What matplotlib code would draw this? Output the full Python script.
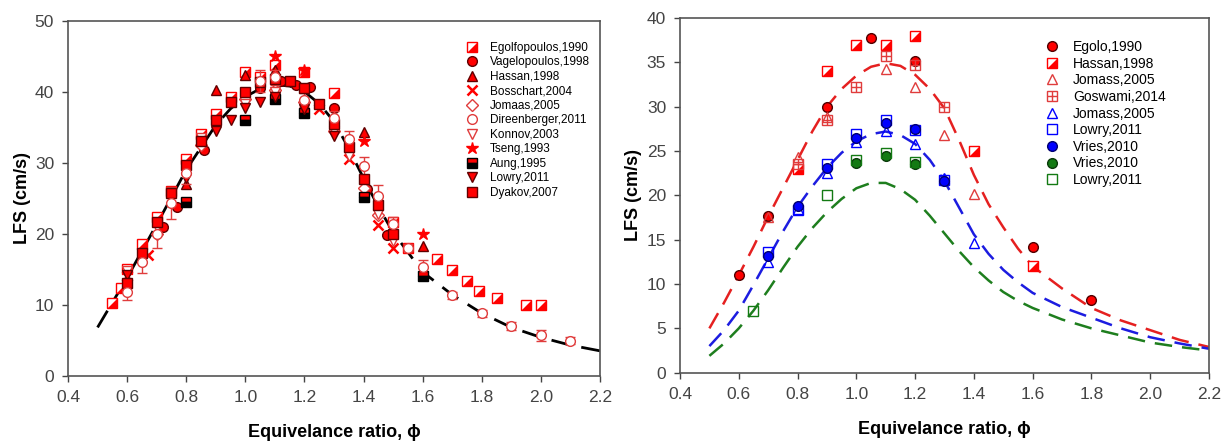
# LFS x equivalence ratio: two panels (compilation of literature data)

import matplotlib
matplotlib.use('Agg')
import matplotlib.pyplot as plt

plt.rcParams['font.family'] = ['Liberation Sans', 'DejaVu Sans']

# ---------------- left panel data ----------------
ego_x = [0.55, 0.58, 0.6, 0.65, 0.7, 0.75, 0.8, 0.85, 0.9, 0.95, 1.0, 1.05, 1.1, 1.2, 1.3,
         1.5, 1.55, 1.65, 1.7, 1.75, 1.79, 1.85, 1.95, 2.0]
ego_y = [10.2, 12.3, 15.0, 18.5, 22.3, 26.0, 30.5, 34.0, 36.8, 39.2, 42.8, 42.0, 43.8, 42.8, 39.8,
         21.7, 18.0, 16.4, 14.9, 13.3, 12.0, 11.0, 10.0, 10.0]
vag_x = [0.72, 0.77, 0.86, 1.05, 1.12, 1.17, 1.22, 1.3, 1.41, 1.48]
vag_y = [21.0, 23.8, 31.8, 40.5, 41.5, 41.0, 40.7, 37.7, 26.3, 19.8]
has_x = [0.8, 0.9, 1.0, 1.1, 1.4, 1.6]
has_y = [27.0, 40.2, 42.3, 43.0, 34.3, 18.2]
bos_x = [0.6, 0.67, 1.25, 1.35, 1.45, 1.5]
bos_y = [14.0, 17.0, 37.5, 30.5, 21.2, 18.0]
jom_x = [0.7, 0.85, 1.0, 1.1, 1.2, 1.3, 1.4, 1.45]
jom_y = [20.0, 32.5, 39.0, 40.3, 38.6, 34.5, 26.5, 22.7]
dir_x = [0.6, 0.65, 0.7, 0.75, 0.8, 1.05, 1.1, 1.2, 1.3, 1.35, 1.4, 1.45, 1.5, 1.55, 1.6,
         1.7, 1.8, 1.9, 2.0, 2.1]
dir_y = [11.8, 16.0, 20.0, 24.3, 28.5, 41.5, 42.0, 38.8, 36.3, 33.3, 29.5, 25.3, 21.3, 18.0, 15.3,
         11.3, 8.8, 7.0, 5.7, 4.9]
dir_err = [1.2, 1.5, 2.0, 2.3, 1.5, 1.5, 1.0, 1.0, 1.0, 1.2, 1.3, 1.5, 1.0, 0.5, 1.0,
           0.5, 0.5, 0.6, 0.8, 0.5]
kon_x = [0.6, 0.7, 0.85, 1.0, 1.1, 1.3, 1.35, 1.45, 1.5]
kon_y = [14.8, 21.0, 33.5, 38.3, 40.0, 34.5, 31.0, 22.8, 19.0]
tse_x = [1.1, 1.2, 1.4, 1.6]
tse_y = [45.0, 43.0, 33.0, 20.0]
aung_x = [0.8, 1.0, 1.1, 1.2, 1.4, 1.6]
aung_y = [24.4, 36.0, 39.0, 37.0, 25.2, 14.0]
low_x = [0.6, 0.8, 0.9, 0.95, 1.0, 1.05, 1.1, 1.2, 1.3]
low_y = [14.2, 27.8, 34.5, 36.0, 37.7, 38.6, 39.3, 37.5, 33.8]
dya_x = [0.6, 0.65, 0.7, 0.75, 0.8, 0.85, 0.9, 0.95, 1.0, 1.05, 1.1, 1.15, 1.2, 1.25, 1.3,
         1.35, 1.4, 1.45, 1.5]
dya_y = [13.0, 17.3, 21.6, 25.7, 29.7, 33.0, 36.0, 38.5, 40.0, 41.3, 41.8, 41.5, 40.5, 38.2, 35.5,
         32.2, 27.7, 24.0, 20.0]

# fitted curve (left)
fit_x = [0.5, 0.6, 0.7, 0.8, 0.9, 0.95, 1.0, 1.05, 1.1, 1.15, 1.2, 1.25, 1.3, 1.35, 1.4,
         1.45, 1.5, 1.6, 1.7, 1.8, 1.9, 2.0, 2.1, 2.2]
fit_y = [6.8, 13.8, 21.3, 29.0, 35.3, 37.6, 39.3, 40.4, 41.0, 40.8, 40.0, 38.3, 35.8, 32.0, 27.8,
         23.8, 20.2, 14.6, 11.4, 8.8, 6.8, 5.4, 4.3, 3.5]

# ---------------- right panel data ----------------
r_ego_x = [0.6, 0.7, 0.9, 1.05, 1.2, 1.6, 1.8]
r_ego_y = [11.0, 17.7, 30.0, 37.8, 35.2, 14.2, 8.2]
r_has_x = [0.8, 0.9, 1.0, 1.1, 1.2, 1.4, 1.6]
r_has_y = [23.0, 34.0, 37.0, 37.0, 38.0, 25.0, 12.0]
r_jom_x = [0.7, 0.8, 0.9, 1.1, 1.2, 1.3, 1.4]
r_jom_y = [17.6, 24.3, 28.8, 34.3, 32.2, 26.8, 20.1]
r_gos_x = [0.8, 0.9, 1.0, 1.1, 1.2, 1.3]
r_gos_y = [23.5, 28.5, 32.2, 35.7, 34.7, 30.0]
b_jom_x = [0.7, 0.8, 0.9, 1.0, 1.1, 1.2, 1.3, 1.4]
b_jom_y = [12.5, 18.5, 22.5, 26.0, 27.3, 25.8, 22.0, 14.6]
b_low_x = [0.7, 0.8, 0.9, 1.0, 1.1, 1.2, 1.3]
b_low_y = [13.6, 18.4, 23.5, 26.9, 28.5, 27.4, 21.7]
b_vri_x = [0.7, 0.8, 0.9, 1.0, 1.1, 1.2, 1.3]
b_vri_y = [13.2, 18.8, 23.1, 26.5, 28.2, 27.5, 21.6]
g_vri_x = [1.0, 1.1, 1.2]
g_vri_y = [23.6, 24.4, 23.5]
g_low_x = [0.65, 0.9, 1.0, 1.1, 1.2]
g_low_y = [7.0, 20.0, 24.0, 24.8, 23.8]

# fitted curves (right)
cur_x = [0.5, 0.55, 0.6, 0.65, 0.7, 0.75, 0.8, 0.85, 0.9, 0.95, 1.0, 1.05, 1.1, 1.15, 1.2,
         1.25, 1.3, 1.35, 1.4, 1.45, 1.5, 1.55, 1.6, 1.7, 1.8, 1.9, 2.0, 2.1, 2.2]
red_y = [5.0, 7.9, 11.0, 14.2, 17.6, 20.8, 24.0, 27.2, 30.0, 32.0, 33.5, 34.5, 34.9, 34.6, 33.6,
         32.0, 29.8, 26.2, 22.3, 19.0, 16.4, 14.0, 12.0, 9.5, 7.3, 5.9, 4.8, 3.7, 2.9]
blue_y = [3.0, 4.8, 7.0, 9.9, 12.9, 15.9, 18.7, 21.0, 23.1, 24.8, 26.1, 26.9, 27.2, 26.8, 25.8,
          24.0, 21.6, 18.6, 15.6, 13.4, 11.6, 10.2, 9.0, 7.4, 6.2, 5.0, 4.0, 3.3, 2.7]
green_y = [1.9, 3.3, 5.0, 7.0, 9.3, 11.8, 14.2, 16.3, 18.1, 19.6, 20.8, 21.4, 21.4, 20.7, 19.5,
           17.7, 15.7, 13.7, 11.9, 10.4, 9.1, 8.1, 7.3, 6.0, 5.0, 4.2, 3.4, 2.9, 2.5]

xticks = [0.4, 0.6, 0.8, 1.0, 1.2, 1.4, 1.6, 1.8, 2.0, 2.2]

RED = '#ff0000'
PINK = '#e03c3c'
BLUE = '#0000ff'
GREEN = '#137a13'
TRI = [(-1, -1), (1, -1), (1, 1)]  # lower-right half of a square


def half_square(ax, x, y, ms):
    a, = ax.plot(x, y, ls='none', marker='s', ms=ms, mfc='white', mec=RED, mew=1)
    b, = ax.plot(x, y, ls='none', marker=TRI, ms=ms, mfc=RED, mec=RED, mew=0.5)
    return (a, b)


def style_axes(ax, ymax, ystep):
    ax.set_xlim(0.4, 2.2)
    ax.set_ylim(0, ymax)
    ax.set_xticks(xticks)
    ax.set_xticklabels(['%.1f' % v for v in xticks])
    ax.set_yticks(range(0, ymax + 1, ystep))
    ax.tick_params(direction='out', length=4, width=1, colors='#444444', labelsize=12.5,
                   top=False, right=False, pad=6)
    for s in ax.spines.values():
        s.set_color('#555555')
        s.set_linewidth(1.2)
    ax.set_xlabel('Equivelance ratio, ϕ', fontsize=13, fontweight='bold', labelpad=14)
    ax.set_ylabel('LFS (cm/s)', fontsize=13, fontweight='bold', labelpad=3)


fig = plt.figure(figsize=(12.23, 4.42), dpi=100)
ax1 = fig.add_axes([68 / 1223, 1 - 375.7 / 442, 532 / 1223, 355 / 442])
ax2 = fig.add_axes([680 / 1223, 1 - 372.7 / 442, 529 / 1223, 354.7 / 442])

# ---------- left ----------
ms = 7
ax1.plot(fit_x, fit_y, color='black', lw=2, dashes=(7, 4), zorder=1)
h = []
h.append(half_square(ax1, ego_x, ego_y, ms))
h.append(ax1.plot(vag_x, vag_y, ls='none', marker='o', ms=ms, mfc=RED, mec='#600000')[0])
h.append(ax1.plot(has_x, has_y, ls='none', marker='^', ms=ms, mfc=RED, mec='#600000')[0])
h.append(ax1.plot(bos_x, bos_y, ls='none', marker='x', ms=ms, mec=RED, mew=1.8)[0])
h.append(ax1.plot(jom_x, jom_y, ls='none', marker='D', ms=ms - 1, mfc='white', mec=PINK)[0])
eb = ax1.errorbar(dir_x, dir_y, yerr=dir_err, fmt='o', ms=ms, mfc='white', mec=PINK,
                  ecolor=PINK, elinewidth=1, capsize=3.5)
h.append(eb[0])
h.append(ax1.plot(kon_x, kon_y, ls='none', marker='v', ms=ms, mfc='white', mec=PINK)[0])
h.append(ax1.plot(tse_x, tse_y, ls='none', marker='*', ms=ms + 2, mfc=RED, mec=RED)[0])
h.append(ax1.plot(aung_x, aung_y, ls='none', marker='s', ms=ms, fillstyle='top', mfc=RED,
                  mfcalt='black', mec='black')[0])
h.append(ax1.plot(low_x, low_y, ls='none', marker='v', ms=ms, mfc=RED, mec='#600000')[0])
h.append(ax1.plot(dya_x, dya_y, ls='none', marker='s', ms=ms, mfc=RED, mec='#600000')[0])

labels1 = ['Egolfopoulos,1990', 'Vagelopoulos,1998', 'Hassan,1998', 'Bosschart,2004',
           'Jomaas,2005', 'Direenberger,2011', 'Konnov,2003', 'Tseng,1993', 'Aung,1995',
           'Lowry,2011', 'Dyakov,2007']
ax1.legend(h, labels1, loc='upper left', bbox_to_anchor=(466 / 1223, 1 - 42 / 442),
           bbox_transform=fig.transFigure, frameon=False, fontsize=8.5, handlelength=1.0,
           handletextpad=1.0, labelspacing=0.21, borderpad=0, borderaxespad=0)
style_axes(ax1, 50, 10)

# ---------- right ----------
ms = 7
ax2.plot(cur_x, red_y, color='#e52020', lw=1.8, dashes=(7, 4), zorder=1)
ax2.plot(cur_x, blue_y, color='#1c1ce0', lw=1.8, dashes=(7, 4), zorder=1)
ax2.plot(cur_x, green_y, color='#1e7e1e', lw=1.8, dashes=(7, 4), zorder=1)
g = []
g.append(ax2.plot(r_ego_x, r_ego_y, ls='none', marker='o', ms=ms, mfc=RED, mec='#500000')[0])
g.append(half_square(ax2, r_has_x, r_has_y, ms))
g.append(ax2.plot(r_jom_x, r_jom_y, ls='none', marker='^', ms=ms, mfc='none', mec=PINK)[0])
a, = ax2.plot(r_gos_x, r_gos_y, ls='none', marker='s', ms=ms, mfc='none', mec=PINK)
b, = ax2.plot(r_gos_x, r_gos_y, ls='none', marker='+', ms=ms, mec=PINK, mew=1)
g.append((a, b))
g.append(ax2.plot(b_jom_x, b_jom_y, ls='none', marker='^', ms=ms, mfc='none', mec=BLUE)[0])
g.append(ax2.plot(b_low_x, b_low_y, ls='none', marker='s', ms=ms, mfc='none', mec=BLUE)[0])
g.append(ax2.plot(b_vri_x, b_vri_y, ls='none', marker='o', ms=ms, mfc=BLUE, mec='#000070')[0])
g.append(ax2.plot(g_vri_x, g_vri_y, ls='none', marker='o', ms=ms, mfc=GREEN, mec='#0a3a0a')[0])
g.append(ax2.plot(g_low_x, g_low_y, ls='none', marker='s', ms=ms, mfc='none', mec=GREEN)[0])

labels2 = ['Egolo,1990', 'Hassan,1998', 'Jomass,2005', 'Goswami,2014', 'Jomass,2005',
           'Lowry,2011', 'Vries,2010', 'Vries,2010', 'Lowry,2011']
ax2.legend(g, labels2, loc='upper left', bbox_to_anchor=(1045 / 1223, 1 - 40 / 442),
           bbox_transform=fig.transFigure, frameon=False, fontsize=10, handlelength=1.0,
           handletextpad=1.0, labelspacing=0.19, borderpad=0, borderaxespad=0)
style_axes(ax2, 40, 5)

fig.savefig('out.png', dpi=100)
